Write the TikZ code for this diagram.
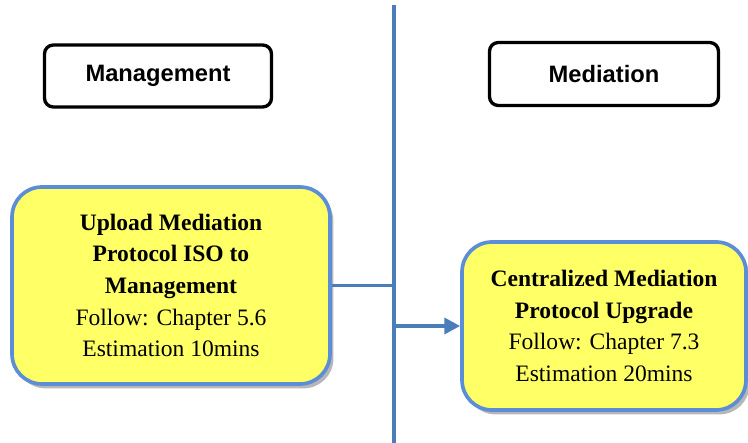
\documentclass[tikz,border=0pt]{standalone}
\usepackage{fontspec}
\setmainfont{Liberation Serif}
\setsansfont{Liberation Sans}
\usepackage{tikz}
\usetikzlibrary{arrows.meta}
\usetikzlibrary{positioning}
\usetikzlibrary{shadows}
\definecolor{laneblue}{RGB}{74,126,187}
\definecolor{boxblue}{RGB}{91,142,214}
\definecolor{taskyellow}{RGB}{255,255,102}

\begin{document}
\begin{tikzpicture}[x=0.02cm,
                    y=0.02cm,
                    thick,
                    lane/.style={draw=laneblue,line width=2.2pt},
                    head/.style={rectangle,rounded corners=5pt,draw,line width=1.9pt,
                                 font=\sffamily\bfseries\fontsize{13.5}{16}\selectfont},
                    task/.style={rectangle,rounded corners=17pt,draw=boxblue,line width=2.1pt,
                                 fill=taskyellow,align=center,
                                 drop shadow={shadow xshift=2pt,shadow yshift=-2.5pt,fill=gray!80,opacity=0.7},
                                 font=\fontsize{13.4}{18}\selectfont}
                    ]
  \useasboundingbox (0,0) rectangle (748,443);
  \coordinate (top) at (394,438);
  \coordinate (bot) at (394,0);
  \node[head, minimum width=4.54cm, minimum height=1.24cm] (mgmt) at (158,367) {Management};
  \node[head, minimum width=4.58cm, minimum height=1.26cm] (med) at (604,369) {Mediation};
  \node[task, minimum width=6.36cm, minimum height=3.94cm] (upload) at (171,157.5)
        {\textbf{Upload Mediation}\\ \textbf{Protocol ISO to}\\ \textbf{Management}\\ Follow: Chapter 5.6\\ Estimation 10mins};
  \node[task, minimum width=5.68cm, minimum height=3.36cm] (upgrade) at (604,117)
        {\textbf{Centralized Mediation}\\ \textbf{Protocol Upgrade}\\ Follow: Chapter 7.3\\ Estimation 20mins};
  \draw[lane] (top) -- (bot);
  \draw[lane] (upload.east) -- (upload.east -| top);
  \draw[lane,-{Triangle[length=9pt,width=9pt]}] (upgrade.west -| top) -- (upgrade.west);
\end{tikzpicture}
\end{document}
